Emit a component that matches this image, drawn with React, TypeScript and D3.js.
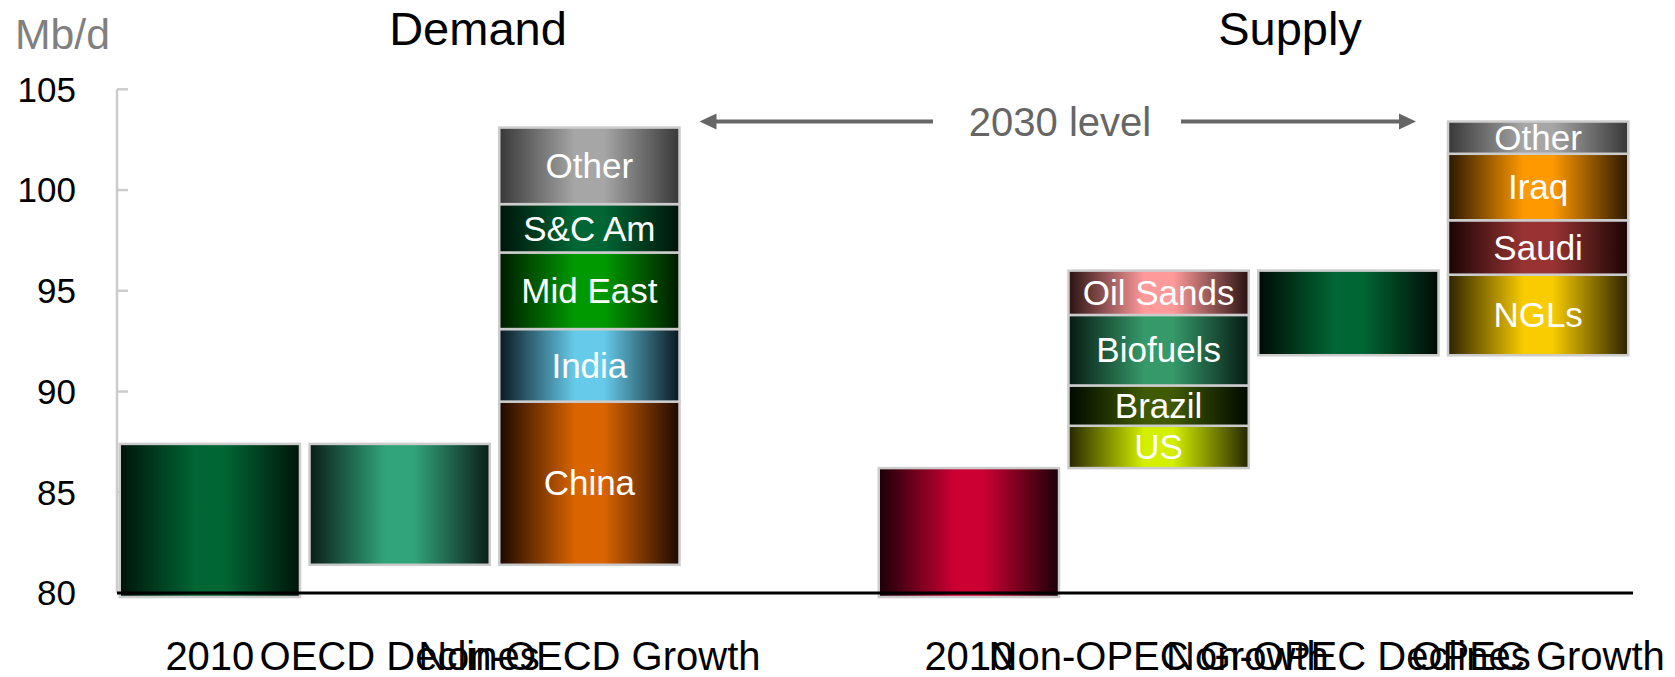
import React from 'react';
import * as d3 from 'd3';

// ---- data ----
const categoryLabels = ["2010", "OECD Declines", "Non-OECD Growth", "", "2010", "Non-OPEC Growth", "Non-OPEC Declines", "OPEC Growth"];
const yTicks = [80, 85, 90, 95, 100, 105];
const demand2010 = 87.4;
const oecdDeclines = 6.0;
const nonOecdRegions = ["China", "India", "Mid East", "S&C Am", "Other"];
const nonOecdGrowth = [8.1, 3.6, 3.8, 2.4, 3.8];
const supply2010 = 86.2;
const nonOpecSources = ["US", "Brazil", "Biofuels", "Oil Sands"];
const nonOpecGrowth = [2.1, 2.0, 3.5, 2.2];
const nonOpecDeclines = 4.2;
const opecSources = ["NGLs", "Saudi", "Iraq", "Other"];
const opecGrowth = [4.0, 2.7, 3.3, 1.6];

// ---- styles ----
const gradColors: Record<string, [string, string]> = {
  d2010: ['#00140a', '#006634'],
  oecd: ['#0b1d18', '#31a47b'],
  China: ['#1c0800', '#d96400'],
  India: ['#0a1820', '#66cbea'],
  'Mid East': ['#001a00', '#009a00'],
  'S&C Am': ['#00140a', '#006634'],
  dOther: ['#383838', '#a6a6a6'],
  s2010: ['#1a0008', '#cc0033'],
  US: ['#262600', '#d4f000'],
  Brazil: ['#000800', '#3f5a00'],
  Biofuels: ['#061a12', '#35996a'],
  'Oil Sands': ['#2a1212', '#ff9a9a'],
  npDecl: ['#000a05', '#006634'],
  NGLs: ['#2e2200', '#f8cc00'],
  Saudi: ['#1a0404', '#993333'],
  Iraq: ['#2a1800', '#ff9900'],
  sOther: ['#383838', '#a6a6a6'],
};

type Seg = { slot: number; v0: number; v1: number; key: string; label: string; extendBelow?: boolean };

function buildSegments(): Seg[] {
  const segs: Seg[] = [];
  segs.push({ slot: 0, v0: 80, v1: demand2010, key: 'd2010', label: '', extendBelow: true });
  const afterDecl = demand2010 - oecdDeclines;
  segs.push({ slot: 1, v0: afterDecl, v1: demand2010, key: 'oecd', label: '' });
  let cum = afterDecl;
  nonOecdRegions.forEach((r, i) => {
    segs.push({ slot: 2, v0: cum, v1: cum + nonOecdGrowth[i], key: r === 'Other' ? 'dOther' : r, label: r });
    cum += nonOecdGrowth[i];
  });
  segs.push({ slot: 4, v0: 80, v1: supply2010, key: 's2010', label: '', extendBelow: true });
  cum = supply2010;
  nonOpecSources.forEach((r, i) => {
    segs.push({ slot: 5, v0: cum, v1: cum + nonOpecGrowth[i], key: r, label: r });
    cum += nonOpecGrowth[i];
  });
  const afterNp = cum - nonOpecDeclines;
  segs.push({ slot: 6, v0: afterNp, v1: cum, key: 'npDecl', label: '' });
  cum = afterNp;
  opecSources.forEach((r, i) => {
    segs.push({ slot: 7, v0: cum, v1: cum + opecGrowth[i], key: r === 'Other' ? 'sOther' : r, label: r });
    cum += opecGrowth[i];
  });
  return segs;
}

const FONT = '"Liberation Sans", Arial, "Helvetica Neue", sans-serif';

export default function App() {
  const W = 1675, H = 677;
  const y = d3.scaleLinear().domain([80, 105]).range([593, 89.3]);
  const x = d3.scaleBand<number>().domain(d3.range(categoryLabels.length)).range([115, 1633]).paddingInner(0.05).paddingOuter(0.025);
  const bw = x.bandwidth();
  const segs = buildSegments();
  const level2030 = supply2010 + d3.sum(nonOpecGrowth) - nonOpecDeclines + d3.sum(opecGrowth);
  const arrowY = y(level2030);
  const leftTip = (x(2) as number) + bw + 20;
  const rightTip = (x(7) as number) - 32;
  const leftTail = 933;
  const rightTail = 1181;

  return (
    <svg width={W} height={H} style={{ position: 'absolute', left: 0, top: 0, display: 'block', background: '#fff' }} fontFamily={FONT}>
      <defs>
        {Object.entries(gradColors).map(([k, [edge, mid]]) => (
          <linearGradient key={k} id={'g-' + k.replace(/[^a-zA-Z0-9]/g, '_')} x1="0" x2="1" y1="0" y2="0">
            <stop offset="0" stopColor={edge} />
            <stop offset="0.42" stopColor={mid} />
            <stop offset="0.58" stopColor={mid} />
            <stop offset="1" stopColor={edge} />
          </linearGradient>
        ))}
      </defs>

      {/* title texts */}
      <text x={15} y={49} fontSize={42} fill="#808080" textLength={95} lengthAdjust="spacingAndGlyphs">Mb/d</text>
      <text x={478} y={45} fontSize={47} fill="#000" textAnchor="middle">Demand</text>
      <text x={1290} y={45} fontSize={47} fill="#000" textAnchor="middle">Supply</text>

      {/* y axis */}
      <line x1={117} x2={117} y1={y(105)} y2={y(80)} stroke="#cccccc" strokeWidth={2.5} />
      {yTicks.map(t => (
        <g key={t}>
          <line x1={117} x2={128} y1={y(t)} y2={y(t)} stroke="#cccccc" strokeWidth={2.5} />
          <text x={76} y={y(t)} dy="0.35em" fontSize={35} textAnchor="end" fill="#000">{t}</text>
        </g>
      ))}

      {/* bars */}
      {segs.map((s, i) => {
        const x0 = x(s.slot) as number;
        const top = y(s.v1);
        const bot = y(s.v0) + (s.extendBelow ? 4 : 0);
        return (
          <g key={i}>
            <rect x={x0} y={top} width={bw} height={bot - top}
              fill={`url(#g-${s.key.replace(/[^a-zA-Z0-9]/g, '_')})`} stroke="#cccccc" strokeWidth={2.5} />
          </g>
        );
      })}
      {segs.filter(s => s.label).map((s, i) => {
        const cx = (x(s.slot) as number) + bw / 2;
        const cy = (y(s.v0) + y(s.v1)) / 2;
        return (
          <text key={'l' + i} x={cx} y={cy} dy="0.35em" fontSize={35} fill="#fff" textAnchor="middle">{s.label}</text>
        );
      })}

      {/* baseline */}
      <line x1={117} x2={1633} y1={y(80)} y2={y(80)} stroke="#000" strokeWidth={3} />

      {/* category labels */}
      {categoryLabels.map((c, i) => c ? (
        <text key={'c' + i} x={(x(i) as number) + bw / 2} y={670} fontSize={40} fill="#000" textAnchor="middle">{c}</text>
      ) : null)}

      {/* 2030 level annotation */}
      <line x1={leftTail} x2={leftTip + 14} y1={arrowY} y2={arrowY} stroke="#666" strokeWidth={4} />
      <polygon points={`${leftTip},${arrowY} ${leftTip + 17},${arrowY - 8} ${leftTip + 17},${arrowY + 8}`} fill="#666" />
      <line x1={rightTail} x2={rightTip - 14} y1={arrowY} y2={arrowY} stroke="#666" strokeWidth={4} />
      <polygon points={`${rightTip},${arrowY} ${rightTip - 17},${arrowY - 8} ${rightTip - 17},${arrowY + 8}`} fill="#666" />
      <text x={1060} y={arrowY} dy="0.35em" fontSize={40} fill="#666" textAnchor="middle">2030 level</text>
    </svg>
  );
}
